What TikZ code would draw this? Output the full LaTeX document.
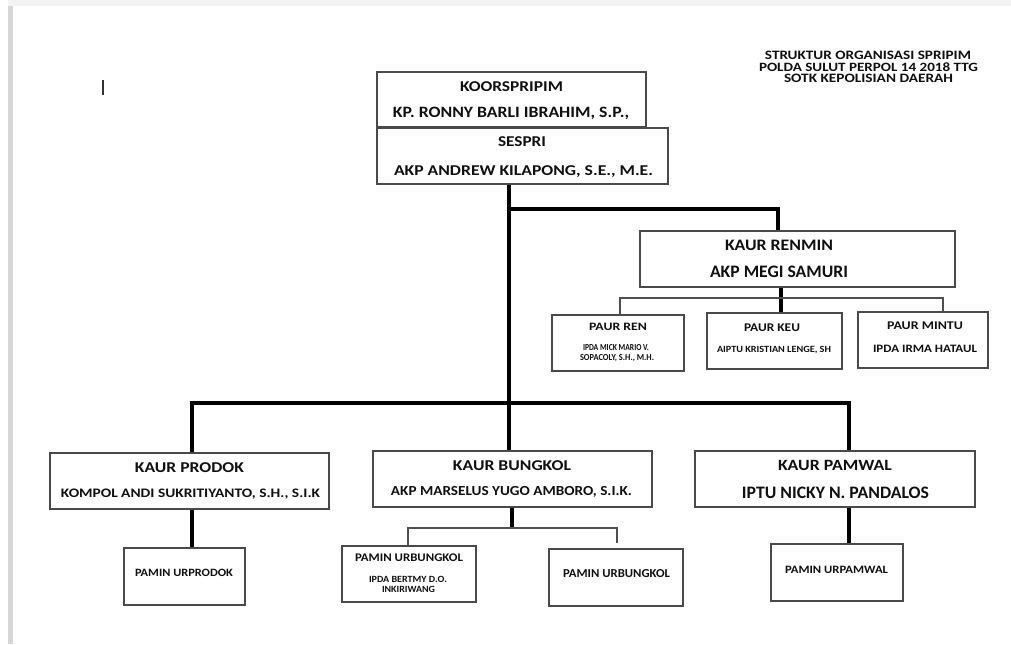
\documentclass[tikz,border=0pt]{standalone}
\usepackage{fontspec}
\setmainfont{Carlito}
\usetikzlibrary{fit}
\newdimen\pxu \pxu=0.75pt
\newdimen\pxh \pxh=0.82pt
% one line of bold text, set to a given width and cap height (in px)
\newcommand{\fl}[3]{\resizebox{#1\pxu}{#2\pxh}{\bfseries #3}}
\definecolor{boxline}{HTML}{4A4A4A}
\definecolor{txt}{HTML}{101010}
\definecolor{busline}{HTML}{505050}
\definecolor{pageedge}{HTML}{D6D6D6}
\definecolor{pagetop}{HTML}{F3F3F3}
\begin{document}
\begin{tikzpicture}[x=0.75pt,y=-0.75pt,
  orgbox/.style={draw=boxline,line width=1pt,inner sep=0pt},
  tl/.style={anchor=base,inner sep=0pt,text=txt},
  thk/.style={draw=black,line width=2.3pt},
  thn/.style={draw=busline,line width=1.2pt}]
\useasboundingbox (0,0) rectangle (1011,644);
\fill[white] (0,0) rectangle (1011,644);
% page edges
\fill[pagetop] (8,0) rectangle (1011,6);
\fill[pageedge] (8,6) rectangle (13,644);
% text cursor
\draw[line width=1.1pt,color=black!80] (103,80) -- (103,95);

% title
\node[tl] (title1) at (868,59.6) {\fl{206}{7.7}{STRUKTUR ORGANISASI SPRIPIM}};
\node[tl] (title2) at (868.5,71) {\fl{219}{8}{POLDA SULUT PERPOL 14 2018 TTG}};
\node[tl] (title3) at (868.5,82.1) {\fl{169}{7.7}{SOTK KEPOLISIAN DAERAH}};

% boxes
\node[orgbox,fit={(377,72) (646,127)}] (koor) {};
\node[orgbox,fit={(377,128) (668,184)}] (sespri) {};
\node[orgbox,fit={(640,231) (955,287)}] (renmin) {};
\node[orgbox,fit={(552,315) (684,371)}] (ren) {};
\node[orgbox,fit={(707,313) (842,369)}] (keu) {};
\node[orgbox,fit={(858,312) (988,368)}] (mintu) {};
\node[orgbox,fit={(50,453) (329,509)}] (prodok) {};
\node[orgbox,fit={(373,451) (652,507)}] (bungkol) {};
\node[orgbox,fit={(695,451) (975,507)}] (pamwal) {};
\node[orgbox,fit={(124,548) (245,605)}] (pprod) {};
\node[orgbox,fit={(342,546) (476,602)}] (pbl) {};
\node[orgbox,fit={(549,549) (683,606)}] (pbr) {};
\node[orgbox,fit={(771,544) (903,601)}] (ppam) {};

% box texts
\node[tl] (koor1) at (511.5,91) {\fl{103}{9}{KOORSPRIPIM}};
\node[tl] (koor2) at (511,117.7) {\fl{236}{9.5}{KP. RONNY BARLI IBRAHIM, S.P.,}};
\node[tl] (ses1) at (522,146.4) {\fl{48}{9}{SESPRI}};
\node[tl] (ses2) at (523.5,175.4) {\fl{259}{9}{AKP ANDREW KILAPONG, S.E., M.E.}};

\node[tl] (ren1) at (779,250.7) {\fl{108}{9.5}{KAUR RENMIN}};
\node[tl] (ren2) at (779,277.8) {\fl{138}{10.5}{AKP MEGI SAMURI}};

\node[tl] (pr1) at (618,330.2) {\fl{58}{6.7}{PAUR REN}};
\node[tl] (pr2) at (616,350) {\fl{66}{5.5}{IPDA MICK MARIO V.}};
\node[tl] (pr3) at (617,360) {\fl{74}{5.5}{SOPACOLY, S.H., M.H.}};
\node[tl] (pk1) at (772,331.8) {\fl{56}{7}{PAUR KEU}};
\node[tl] (pk2) at (774,352.1) {\fl{114}{5.7}{AIPTU KRISTIAN LENGE, SH}};
\node[tl] (pm1) at (925,329.3) {\fl{76}{7}{PAUR MINTU}};
\node[tl] (pm2) at (925,352.7) {\fl{104}{6.7}{IPDA IRMA HATAUL}};

\node[tl] (kp1) at (189.5,472) {\fl{109}{9}{KAUR PRODOK}};
\node[tl] (kp2) at (190.5,497.8) {\fl{259}{7.8}{KOMPOL ANDI SUKRITIYANTO, S.H., S.I.K}};
\node[tl] (kb1) at (512,470.5) {\fl{118}{9}{KAUR BUNGKOL}};
\node[tl] (kb2) at (511.5,495.6) {\fl{241}{8.3}{AKP MARSELUS YUGO AMBORO, S.I.K.}};
\node[tl] (kw1) at (835,470.5) {\fl{114}{9.3}{KAUR PAMWAL}};
\node[tl] (kw2) at (835.5,498.3) {\fl{187}{10.5}{IPTU NICKY N. PANDALOS}};

\node[tl] (pp1) at (184,576.2) {\fl{98}{6.7}{PAMIN URPRODOK}};
\node[tl] (pbl1) at (409,561.3) {\fl{108}{7}{PAMIN URBUNGKOL}};
\node[tl] (pbl2) at (408,582.1) {\fl{78}{5.7}{IPDA BERTMY D.O.}};
\node[tl] (pbl3) at (408.5,592.6) {\fl{53}{5.7}{INKIRIWANG}};
\node[tl] (pbr1) at (616.5,577) {\fl{107}{7.3}{PAMIN URBUNGKOL}};
\node[tl] (pw1) at (836.5,573.2) {\fl{103}{6.7}{PAMIN URPAMWAL}};

% junctions and drop lines
\coordinate (trunk) at (509,209);
\coordinate (rdrop) at (778,231);
\coordinate (rkeu) at (781,298);
\coordinate (rstubl) at (620,298);
\coordinate (rstubr) at (943,298);
\coordinate (lowbus) at (509,403);
\coordinate (pdrop) at (192,403);
\coordinate (wdrop) at (849,403);
\coordinate (bbus) at (512,528);
\coordinate (bstubl) at (408,528);
\coordinate (bstubr) at (617,543);

% main trunk and branches
\draw[thk] (sespri.south -| trunk) -- (bungkol.north -| trunk);
\draw[thk,line join=miter] (trunk) -| (renmin.north -| rdrop);
\draw[thk,line join=miter] (prodok.north -| pdrop) |- (lowbus) -| (pamwal.north -| wdrop);

% under KAUR RENMIN
\draw[thk] (renmin.south -| rkeu) -- (keu.north -| rkeu);
\draw[thn] (ren.north -| rstubl) |- (rkeu) -| (mintu.north -| rstubr);

% under the KAUR boxes
\draw[thk] (prodok.south -| pdrop) -- (pprod.north -| pdrop);
\draw[thk] (bungkol.south -| bbus) -- (bbus);
\draw[thn] (pbl.north -| bstubl) |- (bbus) -| (bstubr);
\draw[thk] (pamwal.south -| wdrop) -- (ppam.north -| wdrop);
\end{tikzpicture}
\end{document}
